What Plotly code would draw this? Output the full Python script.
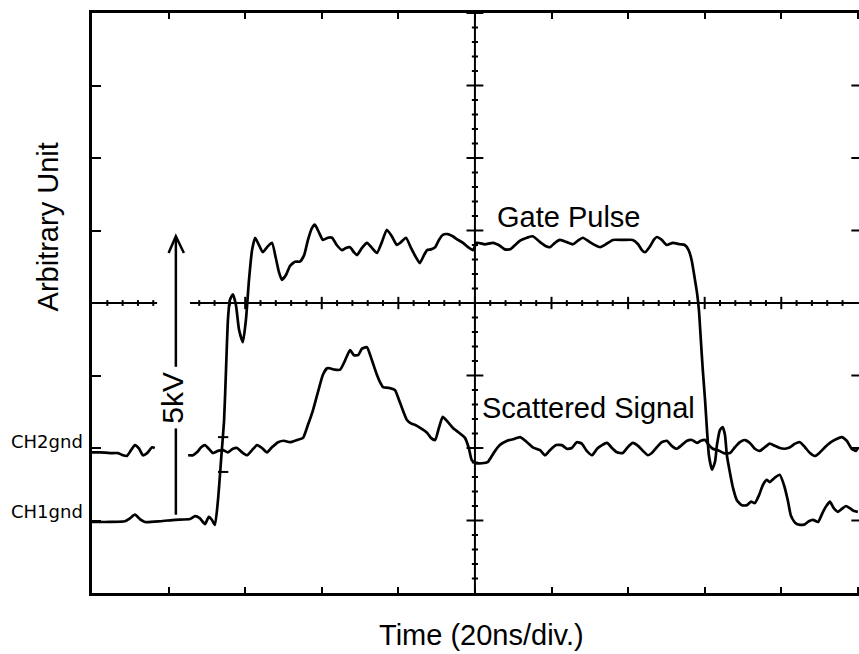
import numpy as np
import plotly.graph_objects as go

# ---------------- data (time in ns, amplitude in divisions) ----------------
gate_t = [0, 4.7, 8.6, 9.9, 11.2, 12.5, 13.8, 17.8, 21.7, 25.6, 26.9, 28.2, 29.5, 30.5, 31.3, 32.1,
          32.9, 33.7, 34.5, 35.0, 35.5, 36.0, 36.8, 37.6, 38.4, 39.4, 40.2, 41.0, 41.8, 42.6, 43.6,
          44.6, 45.7, 47.0, 48.0, 48.8, 49.6, 50.7, 51.7, 53.0, 54.3, 55.4, 56.4, 57.4, 58.2, 59.3,
          60.3, 61.6, 62.7, 63.9, 65.3, 66.3, 67.4, 68.4, 69.2, 70.5, 71.8, 73.1, 74.4, 75.7, 77.0,
          78.3, 79.6, 80.7, 82.0, 83.3, 84.6, 85.6, 86.7, 87.5, 88.5, 89.6, 90.6, 91.6, 92.9, 94.2,
          95.6, 96.9, 98.2, 99.5, 100.5, 102.6, 104.7, 106.5, 107.8, 109.2, 110.5, 111.8, 113.6,
          115.1, 117.0, 118.3, 119.6, 120.9, 122.2, 124.0, 125.6, 126.9, 128.2, 130.0, 131.3, 132.7,
          134.2, 136.0, 138.6, 141.2, 142.6, 143.6, 144.4, 145.7, 146.7, 147.5, 148.8, 150.1, 151.7,
          153.5, 154.8, 155.8, 156.6, 157.4, 158.0, 158.5, 159.0, 159.5, 160.1, 160.6, 161.1, 161.9,
          162.7, 163.2, 164.0, 164.7, 165.3, 165.8, 166.6, 167.4, 168.4, 169.7, 171.0, 172.1, 173.1,
          174.2, 175.2, 176.2, 177.0, 178.3, 179.6, 180.7, 181.7, 182.5, 183.6, 184.9, 186.2, 187.2,
          188.3, 189.6, 190.9, 191.9, 192.7, 193.7, 194.8, 195.8, 196.9, 197.9, 199.0, 200]
gate_v = [-3.02, -3.02, -3.01, -2.97, -2.92, -2.98, -3.02, -3.01, -2.99, -2.98, -2.94, -2.97, -3.05,
          -2.95, -2.99, -3.06, -2.72, -2.17, -1.61, -0.92, -0.23, 0.04, 0.12, -0.03, -0.37, -0.54,
          -0.23, 0.32, 0.73, 0.90, 0.80, 0.70, 0.77, 0.83, 0.62, 0.43, 0.32, 0.39, 0.51, 0.57, 0.57,
          0.66, 0.87, 1.03, 1.08, 0.97, 0.87, 0.90, 0.90, 0.80, 0.73, 0.76, 0.77, 0.70, 0.66, 0.76,
          0.83, 0.76, 0.69, 0.84, 1.01, 0.92, 0.80, 0.84, 0.90, 0.76, 0.63, 0.55, 0.66, 0.73, 0.74,
          0.77, 0.87, 0.94, 0.95, 0.92, 0.87, 0.83, 0.77, 0.73, 0.83, 0.81, 0.83, 0.79, 0.74, 0.74,
          0.80, 0.86, 0.90, 0.92, 0.84, 0.79, 0.77, 0.83, 0.87, 0.84, 0.81, 0.86, 0.90, 0.84, 0.80,
          0.77, 0.81, 0.87, 0.87, 0.87, 0.81, 0.73, 0.70, 0.78, 0.87, 0.91, 0.87, 0.80, 0.83, 0.81,
          0.80, 0.73, 0.59, 0.34, 0.14, -0.10, -0.51, -0.92, -1.34, -1.75, -2.10, -2.30, -2.19,
          -1.96, -1.75, -1.71, -1.82, -2.10, -2.34, -2.55, -2.72, -2.79, -2.79, -2.74, -2.76, -2.65,
          -2.51, -2.44, -2.47, -2.41, -2.37, -2.51, -2.72, -2.93, -3.03, -3.06, -3.05, -3.01, -2.99,
          -3.02, -2.88, -2.79, -2.74, -2.83, -2.88, -2.84, -2.80, -2.83, -2.87, -2.88]

scat_t = [0, 2.1, 4.7, 6.8, 8.1, 9.1, 10.2, 11.2, 12.3, 13.3, 14.4, 15.7, 16.4, None,
          25.1, 26.4, 27.4, 28.5, 29.5, 30.5, 31.6, 32.9, 34.2, 35.5, 36.8, 37.9, 39.2, 40.5, 41.8,
          43.1, 44.4, 45.7, 47.0, 48.6, 50.1, 51.7, 53.5, 55.1, 56.4, 57.7, 59.0, 60.3, 61.4, 62.1,
          63.4, 64.8, 66.1, 67.4, 68.4, 69.5, 70.5, 71.8, 73.1, 74.4, 75.2, 76.0, 77.5, 79.1, 80.4,
          82.2, 83.3, 84.3, 85.6, 87.5, 88.5, 89.6, 90.6, 91.6, 92.9, 94.2, 95.6, 97.4, 98.4, 99.2,
          100.3, 101.8, 103.4, 105.0, 106.5, 108.4, 109.9, 111.8, 113.6, 115.1, 117.0, 118.3, 119.6,
          121.2, 122.7, 124.0, 125.3, 126.6, 127.9, 129.2, 130.6, 131.9, 133.2, 134.5, 135.8, 137.1,
          138.6, 139.9, 141.2, 142.6, 143.9, 145.2, 146.2, 147.5, 148.8, 150.1, 151.4, 152.7, 154.0,
          155.4, 156.7, 158.0, 159.0, 160.1, 161.1, 162.1, 163.5, 165.0, 166.6, 167.9, 169.2, 170.5,
          171.8, 173.1, 174.4, 175.7, 177.0, 178.3, 179.6, 180.9, 182.3, 183.6, 184.9, 186.2, 187.5,
          188.8, 190.1, 191.4, 192.7, 194.3, 195.8, 197.1, 198.4, 199.5, 200]
scat_v = [-2.06, -2.06, -2.07, -2.07, -2.10, -2.11, -2.03, -1.96, -2.01, -2.10, -2.07, -1.99, -2.00, None,
          -2.10, -2.10, -2.06, -1.99, -1.96, -2.01, -2.07, -2.04, -2.03, -2.06, -2.01, -2.00, -2.06,
          -2.10, -2.03, -1.96, -2.00, -2.06, -1.99, -1.92, -1.90, -1.92, -1.89, -1.86, -1.68, -1.48,
          -1.23, -0.99, -0.90, -0.90, -0.92, -0.92, -0.79, -0.65, -0.72, -0.72, -0.63, -0.61, -0.79,
          -0.99, -1.09, -1.16, -1.17, -1.20, -1.37, -1.61, -1.66, -1.68, -1.72, -1.79, -1.86, -1.89,
          -1.72, -1.57, -1.64, -1.72, -1.78, -1.86, -2.00, -2.17, -2.21, -2.21, -2.19, -2.06, -1.96,
          -1.90, -1.88, -1.85, -1.92, -1.99, -2.03, -2.10, -2.03, -1.96, -1.96, -2.01, -2.00, -1.92,
          -1.94, -2.04, -2.10, -2.01, -1.96, -1.93, -2.00, -2.06, -2.07, -1.99, -1.93, -1.97, -2.04,
          -2.10, -2.07, -1.99, -1.92, -1.90, -1.97, -2.01, -1.96, -1.90, -1.89, -1.93, -1.90, -1.89,
          -1.96, -2.01, -2.03, -2.07, -2.07, -1.99, -1.92, -1.89, -1.93, -2.01, -2.04, -1.99, -1.94,
          -1.97, -2.00, -2.01, -1.99, -1.94, -1.92, -1.99, -2.07, -2.11, -2.06, -1.99, -1.93, -1.88,
          -1.85, -1.90, -2.01, -2.04, -2.00]

ch_labels = ["CH2gnd", "CH1gnd"]
ch_levels = [-2, -3]
x_ticks = list(range(0, 201, 20))
y_ticks = list(range(-4, 5))
X_MAX = 200.3   # right edge of the screen sits at the window edge

# ---------------- figure ----------------
fig = go.Figure()
INK = "black"

# centre graticule (cross with minor ticks)
gx, gy = [], []
gap = (17.0, 25.6)
gx += [0, gap[0], None, gap[1], 200, None]
gy += [0, 0, None, 0, 0, None]
for t in np.arange(0, 200.01, 4):
    if gap[0] - 0.5 < t < gap[1] + 0.5 or t in (0, 200):
        continue
    h = 0.085 if abs(t / 20 - round(t / 20)) < 1e-6 else 0.04
    gx += [t, t, None]
    gy += [-h, h, None]
gx += [100, 100, None]
gy += [-4, 4, None]
for v in np.arange(-4, 4.001, 0.2):
    if abs(v) in (4,):
        continue
    w = 2.2 if abs(v - round(v)) < 1e-6 else 0.8
    gx += [100 - w, 100 + w, None]
    gy += [v, v, None]
fig.add_trace(go.Scatter(x=gx, y=gy, mode="lines", line=dict(color=INK, width=2),
                         hoverinfo="skip", showlegend=False))

fig.add_trace(go.Scatter(x=scat_t, y=scat_v, mode="lines", name="Scattered Signal",
                         line=dict(color=INK, width=2.7, shape="spline", smoothing=0.5),
                         connectgaps=False, showlegend=False))
fig.add_trace(go.Scatter(x=gate_t, y=gate_v, mode="lines", name="Gate Pulse",
                         line=dict(color=INK, width=2.7, shape="spline", smoothing=0.5),
                         showlegend=False))

shapes = []
# right-edge inward ticks
for v in y_ticks[1:-1]:
    shapes.append(dict(type="line", xref="paper", yref="y", x0=0.99, x1=1.0, y0=v, y1=v,
                       line=dict(color=INK, width=2)))
# 5 kV arrow
arrow_x = 21.9
shapes.append(dict(type="line", x0=arrow_x, x1=arrow_x, y0=-2.92, y1=-1.73, line=dict(color=INK, width=2.5)))
shapes.append(dict(type="line", x0=arrow_x, x1=arrow_x, y0=-0.88, y1=0.91, line=dict(color=INK, width=2.5)))
shapes.append(dict(type="path", path=f"M 20.0 0.69 L {arrow_x} 0.92 L 24.0 0.69",
                   line=dict(color=INK, width=2.5)))
# cursor marks on the rising edge
for v in (-1.85, -2.33):
    shapes.append(dict(type="line", x0=32.9, x1=35.6, y0=v, y1=v, line=dict(color=INK, width=2)))
# ground level markers
for lvl in ch_levels:
    shapes.append(dict(type="line", x0=-3.0, x1=0, y0=lvl - 0.04, y1=lvl - 0.04,
                       line=dict(color=INK, width=1.6)))

ann = []
for lab, py in zip(ch_labels, [0.262, 0.140]):
    ann.append(dict(x=-0.009, y=py, xref="paper", yref="paper", text=lab, showarrow=False,
                    xanchor="right", yanchor="middle",
                    font=dict(family="DejaVu Sans", size=18, color=INK)))
ann.append(dict(x=105.2, y=1.19, text="Gate Pulse", showarrow=False, xanchor="left", yanchor="middle",
                font=dict(family="Liberation Sans", size=29, color=INK)))
ann.append(dict(x=101.2, y=-1.45, text="Scattered Signal", showarrow=False, xanchor="left", yanchor="middle",
                font=dict(family="Liberation Sans", size=29, color=INK)))
ann.append(dict(x=21.0, y=-1.30, text="5kV", showarrow=False, textangle=-90, xanchor="center",
                yanchor="middle", font=dict(family="Liberation Sans", size=30, color=INK)))
ann.append(dict(x=-0.0574, y=0.632, xref="paper", yref="paper", text="Arbitrary Unit", showarrow=False,
                textangle=-90, xanchor="center", yanchor="middle",
                font=dict(family="Liberation Sans", size=29, color=INK)))
ann.append(dict(x=0.5072, y=-0.072, xref="paper", yref="paper", text="Time (20ns/div.)", showarrow=False,
                xanchor="center", yanchor="middle",
                font=dict(family="Liberation Sans", size=29, color=INK)))

fig.update_layout(
    width=859, height=654,
    margin=dict(l=92, r=0, t=13, b=61),
    paper_bgcolor="white", plot_bgcolor="white",
    shapes=shapes, annotations=ann,
    xaxis=dict(range=[0, X_MAX], tickvals=x_ticks, showticklabels=False, showgrid=False, zeroline=False,
               showline=True, linecolor=INK, linewidth=2.6, mirror="ticks",
               ticks="inside", ticklen=6, tickwidth=2, tickcolor=INK, fixedrange=True),
    yaxis=dict(range=[-4, 4], tickvals=y_ticks, showticklabels=False, showgrid=False, zeroline=False,
               showline=True, linecolor=INK, linewidth=2.6, mirror=False,
               ticks="inside", ticklen=9, tickwidth=2, tickcolor=INK, fixedrange=True),
)

fig.write_html("out.html",
               config={"displayModeBar": False},
               post_script="document.body.style.margin='0';"
                           "document.documentElement.style.overflow='hidden';")
